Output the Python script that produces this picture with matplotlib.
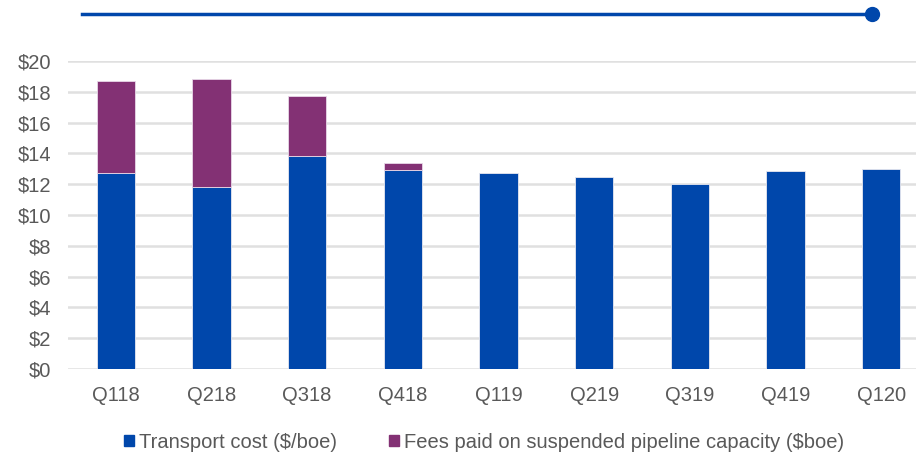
import matplotlib
matplotlib.use("Agg")
import matplotlib.pyplot as plt
from matplotlib.lines import Line2D
import numpy as np

categories = ["Q118", "Q218", "Q318", "Q418", "Q119", "Q219", "Q319", "Q419", "Q120"]
transport_cost = [12.7, 11.8, 13.8, 12.9, 12.7, 12.5, 12.0, 12.85, 13.0]
suspended_fees = [6.0, 7.0, 3.95, 0.45, 0, 0, 0, 0, 0]
yticks = [0, 2, 4, 6, 8, 10, 12, 14, 16, 18, 20]
ytick_labels = [f"${v}" for v in yticks]
legend_labels = ["Transport cost ($/boe)", "Fees paid on suspended pipeline capacity ($boe)"]

BLUE = "#0047AB"
PURPLE = "#833174"
GRAY = "#595959"

plt.rcParams['font.family'] = ['Liberation Sans', 'DejaVu Sans']

fig = plt.figure(figsize=(9.16, 4.53), dpi=100)
ax = fig.add_axes([68/916, 1-369/453, (929-68)/916, (369-61)/453])

x = np.arange(len(categories))
w = 0.4
ax.bar(x, transport_cost, width=w, color=BLUE, edgecolor="#e8e8f0", linewidth=0.6, zorder=3)
fees_x = [xi for xi, f in zip(x, suspended_fees) if f > 0]
fees_v = [f for f in suspended_fees if f > 0]
fees_b = [t for t, f in zip(transport_cost, suspended_fees) if f > 0]
ax.bar(fees_x, fees_v, bottom=fees_b, width=w, color=PURPLE, edgecolor="#e8d8e8", linewidth=0.6, zorder=3)

ax.set_xlim(-0.5, len(categories) - 0.5)
ax.set_ylim(0, 20)
ax.set_yticks(yticks)
ax.set_yticklabels(ytick_labels)
ax.set_xticks(x)
ax.set_xticklabels(categories)
ax.yaxis.grid(True, color="#e0e0e0", linewidth=1.8, zorder=0)
ax.set_axisbelow(True)
for s in ax.spines.values():
    s.set_visible(False)
ax.tick_params(axis="both", length=0, colors=GRAY, labelsize=14.5)
ax.tick_params(axis="x", pad=12)
ax.tick_params(axis="y", pad=12)

# decorative header line with dot
fig.add_artist(Line2D([82/916, 872/916], [1-14/453, 1-14/453], color=BLUE, linewidth=2.5,
                      transform=fig.transFigure))
fig.add_artist(Line2D([872/916], [1-14/453], color=BLUE, marker="o", markersize=10,
                      transform=fig.transFigure))

handles = [plt.Rectangle((0, 0), 1, 1, color=BLUE), plt.Rectangle((0, 0), 1, 1, color=PURPLE)]
leg = fig.legend(handles, legend_labels, loc="center", bbox_to_anchor=(484/916, 1-442/453),
                 ncol=2, frameon=False, fontsize=14.5, handlelength=0.5, handleheight=0.5,
                 handletextpad=0.25, columnspacing=2.6, labelcolor=GRAY,
                 borderpad=0, borderaxespad=0)

fig.savefig("out.png", dpi=100)
